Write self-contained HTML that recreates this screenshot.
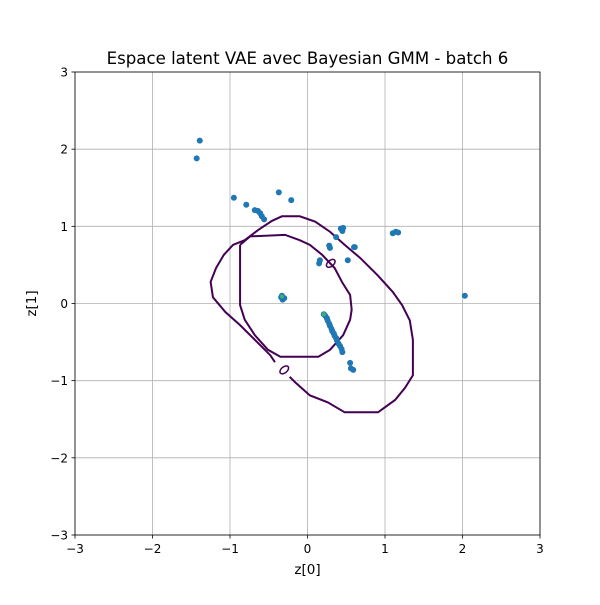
<!DOCTYPE html>
<html><head><meta charset="utf-8"><style>
body{margin:0;background:#fff;}
svg text{font-family:"DejaVu Sans","Liberation Sans",sans-serif;fill:#000;}
</style></head><body>
<svg id="chart" width="600" height="600" xmlns="http://www.w3.org/2000/svg">
<rect width="600" height="600" fill="#fff"/>
<g id="grid"></g><g id="contours"></g><g id="points"></g><g id="axes"></g>
<text x="307.5" y="64" font-size="16.6" text-anchor="middle">Espace latent VAE avec Bayesian GMM - batch 6</text>
<text x="307.5" y="574" font-size="13.5" text-anchor="middle">z[0]</text>
<text x="36" y="303.5" font-size="13.5" text-anchor="middle" transform="rotate(-90 36 303.5)">z[1]</text>
</svg>
<script>
const ticks=[-3,-2,-1,0,1,2,3];
const tickLabels=["\u22123","\u22122","\u22121","0","1","2","3"];
const pointsX=[-1.39,-1.43,-0.95,-0.79,-0.37,-0.21,-0.68,-0.64,-0.61,-0.59,-0.56,0.45,0.43,0.46,0.37,0.28,0.29,0.60,0.61,0.16,0.15,0.52,1.10,1.14,1.17,2.03,-0.33,-0.32,-0.30,-0.34,
0.21,0.23,0.25,0.26,0.28,0.29,0.31,0.32,0.34,0.35,0.37,0.38,0.40,0.42,0.44,0.45,0.55,0.56,0.59];
const pointsY=[2.11,1.88,1.37,1.28,1.44,1.34,1.21,1.20,1.17,1.13,1.09,0.94,0.97,0.98,0.86,0.75,0.72,0.73,0.73,0.56,0.52,0.56,0.91,0.93,0.92,0.10,0.10,0.05,0.07,0.08,
-0.14,-0.16,-0.19,-0.22,-0.26,-0.29,-0.33,-0.36,-0.39,-0.42,-0.45,-0.48,-0.52,-0.55,-0.59,-0.63,-0.77,-0.84,-0.86];
const centersX=[-0.33,0.21];
const centersY=[0.09,-0.14];
const outerAX=[-0.42,-0.48,-0.68,-0.87,-1.06,-1.22,-1.25,-1.18,-1.08,-0.96,-0.81,-0.64,-0.46,-0.33,-0.10,0.10,0.29,0.48,0.68,0.91,1.10,1.22,1.32,1.36,1.36,1.26,1.13,0.91,0.48,0.26,0.03,-0.16,-0.23];
const outerAY=[-0.76,-0.67,-0.47,-0.28,-0.11,0.08,0.28,0.46,0.63,0.76,0.82,0.95,1.07,1.13,1.13,1.06,0.93,0.76,0.59,0.36,0.15,-0.02,-0.22,-0.47,-0.93,-1.09,-1.25,-1.41,-1.41,-1.28,-1.19,-1.02,-0.95];
const innerX=[-0.87,-0.74,-0.29,-0.10,0.03,0.19,0.35,0.45,0.55,0.57,0.55,0.46,0.29,0.14,-0.35,-0.51,-0.68,-0.81,-0.87,-0.87];
const innerY=[0.76,0.87,0.89,0.82,0.76,0.63,0.46,0.27,0.11,-0.08,-0.21,-0.41,-0.60,-0.69,-0.69,-0.60,-0.41,-0.21,-0.02,0.76];
const smallX=[0.30,-0.30];
const smallY=[0.52,-0.86];
const X0=75,X1=540,Y0=535,Y1=72;
function sx(v){return X0+(v+3)/6*(X1-X0);}
function sy(v){return Y0-(v+3)/6*(Y0-Y1);}
const NS="http://www.w3.org/2000/svg";
function mk(t,a,p){const e=document.createElementNS(NS,t);for(const k in a)e.setAttribute(k,a[k]);p.appendChild(e);return e;}
const grid=document.getElementById('grid'),axes=document.getElementById('axes');
ticks.forEach((t,i)=>{
 const gx=mk('line',{x1:sx(t),x2:sx(t),y1:Y1,y2:Y0,stroke:'#b0b0b0','stroke-width':0.8},grid);
 
 
 const gy=mk('line',{x1:X0,x2:X1,y1:sy(t),y2:sy(t),stroke:'#b0b0b0','stroke-width':0.8},grid);
 
 
 mk('line',{x1:sx(t),x2:sx(t),y1:Y0,y2:Y0+3.5,stroke:'#000','stroke-width':0.8},axes);
 mk('line',{x1:X0-3.5,x2:X0,y1:sy(t),y2:sy(t),stroke:'#000','stroke-width':0.8},axes);
 const tx=mk('text',{x:sx(t),y:Y0+18,'font-size':12,'text-anchor':'middle'},axes);tx.textContent=tickLabels[i];
 
 
 const ty=mk('text',{x:X0-7,y:sy(t)+4.5,'font-size':12,'text-anchor':'end'},axes);ty.textContent=tickLabels[i];
 
 
});
const frame=mk('rect',{x:X0,y:Y1,width:X1-X0,height:Y0-Y1,fill:'none',stroke:'#000','stroke-width':0.8},axes);


const cg=document.getElementById('contours');
function poly(xs,ys,name){const p=mk('polyline',{points:xs.map((x,i)=>sx(x)+','+sy(ys[i])).join(' '),fill:'none',stroke:'#440154','stroke-width':2},cg);
 
 }
poly(outerAX,outerAY,'outer-contour');
poly(innerX,innerY,'inner-contour');
smallX.forEach((x,i)=>{const e=mk('ellipse',{cx:sx(x),cy:sy(smallY[i]),rx:5,ry:3,fill:'none',stroke:'#440154','stroke-width':1.5,transform:`rotate(-40 ${sx(x)} ${sy(smallY[i])})`},cg);
 
 });
const pg=document.getElementById('points');
pointsX.forEach((x,i)=>{const c=mk('circle',{cx:sx(x),cy:sy(pointsY[i]),r:3,fill:'#1f77b4'},pg);
 
 });
centersX.forEach((x,i)=>{const c=mk('circle',{cx:sx(x),cy:sy(centersY[i]),r:2,fill:'#3cb371'},pg);
 
 });
</script>
</body></html>
